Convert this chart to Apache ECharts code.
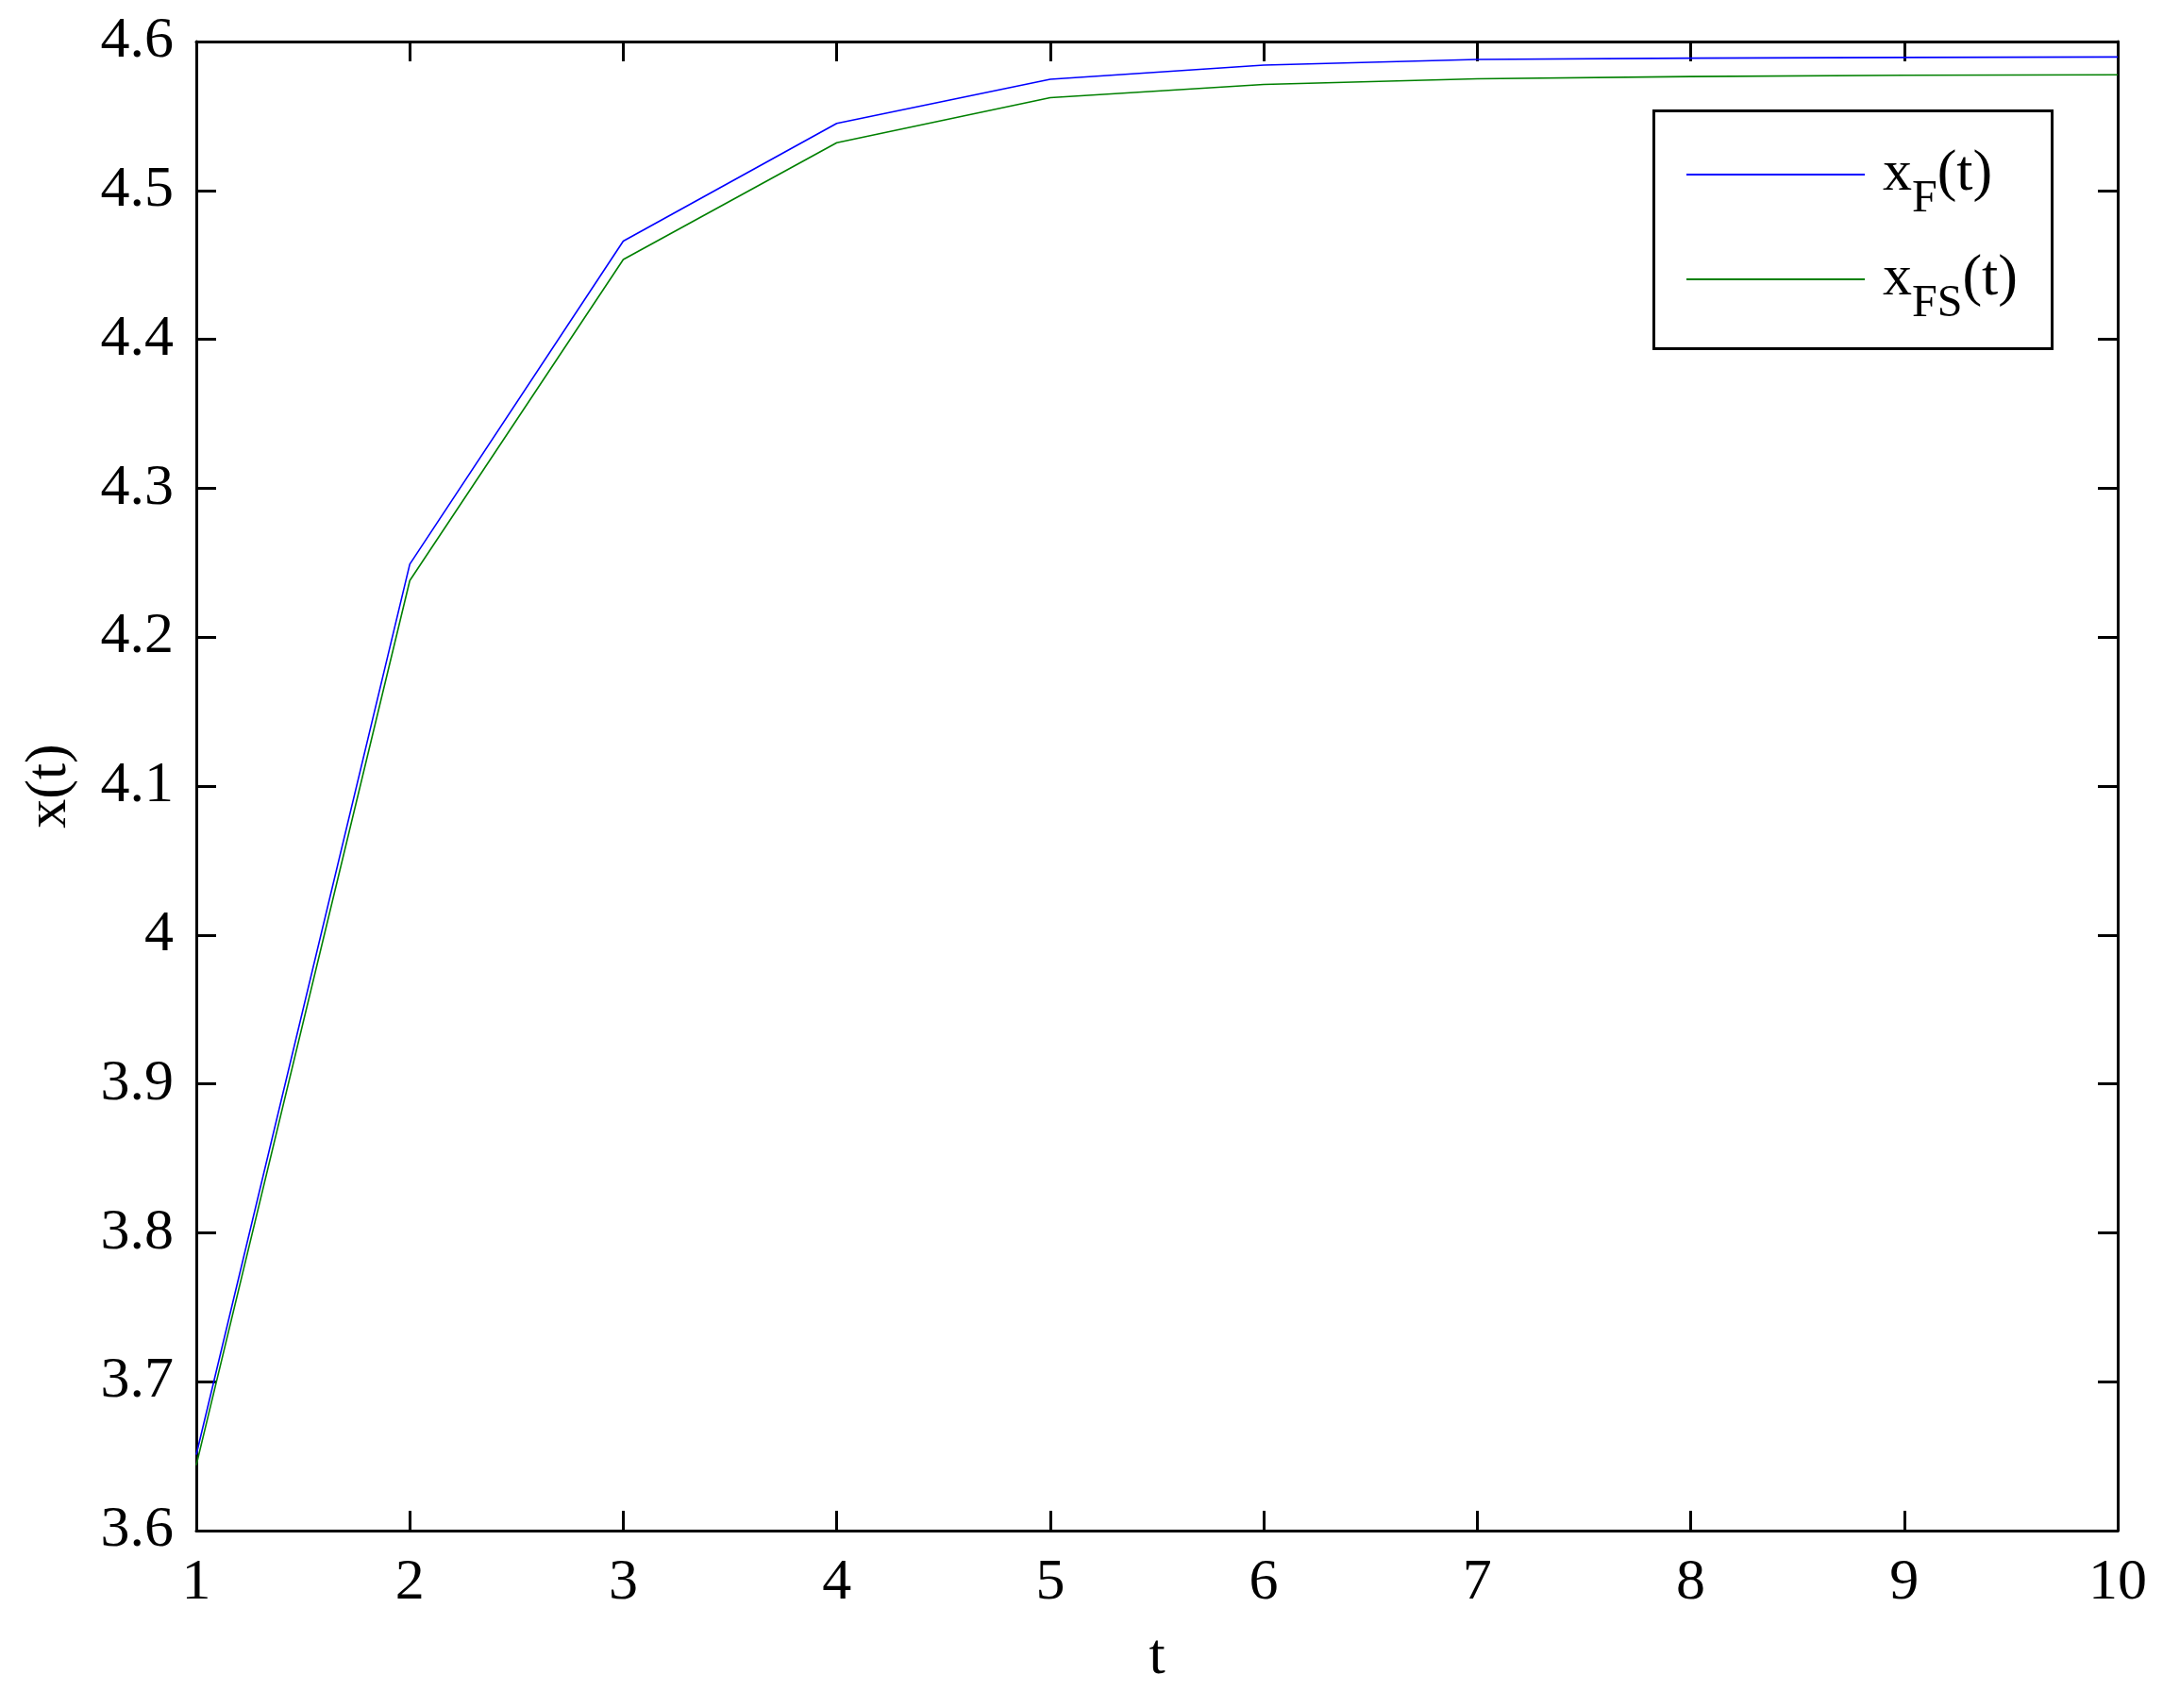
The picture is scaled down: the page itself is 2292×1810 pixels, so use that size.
<!DOCTYPE html>
<html>
<head>
<meta charset="utf-8">
<style>
  html, body { margin: 0; padding: 0; background: #fff; }
  #chart { width: 2292px; height: 1810px; }
</style>
<script src="https://cdn.jsdelivr.net/npm/echarts@6/dist/echarts.min.js"></script>
</head>
<body>
<div id="chart"></div>
<script>
// data
const tValues = [1, 2, 3, 4, 5, 6, 7, 8, 9, 10]
const xF = [3.651, 4.249, 4.466, 4.545, 4.5747, 4.5842, 4.588, 4.5888, 4.5893, 4.5896]
const xFS = [3.644, 4.238, 4.4536, 4.532, 4.5623, 4.5712, 4.575, 4.5765, 4.5773, 4.5777]
const seriesNames = ['xF(t)', 'xFS(t)']
const legendLabels = {
  'xF(t)': '{x|x}{s|F}{p|(t)}',
  'xFS(t)': '{x|x}{s|FS}{p|(t)}'
}

const font = "'Liberation Serif', 'Times New Roman', serif"
const chart = echarts.init(document.getElementById('chart'))

const toPairs = (ys) => tValues.map((t, i) => [t, ys[i]])

// shared look for the boxed MATLAB-style axes
const axisBase = {
  type: 'value',
  axisLine: { show: true, onZero: false, lineStyle: { color: '#000', width: 3 } },
  axisTick: { show: true, inside: true, length: 21, lineStyle: { color: '#000', width: 3 } },
  splitLine: { show: false }
}

const option = {
  backgroundColor: '#fff',
  animation: false,
  grid: { left: 208, right: 48, top: 44, bottom: 188 },
  xAxis: [
    {
      ...axisBase,
      position: 'bottom',
      min: 1, max: 10, interval: 1,
      name: 't',
      nameLocation: 'middle',
      nameGap: 104,
      nameTextStyle: { fontFamily: font, fontSize: 62, color: '#000' },
      axisLabel: { fontFamily: font, fontSize: 62, color: '#000', margin: 25 }
    },
    {
      ...axisBase,
      position: 'top',
      min: 1, max: 10, interval: 1,
      axisLabel: { show: false }
    }
  ],
  yAxis: [
    {
      ...axisBase,
      position: 'left',
      min: 3.6, max: 4.6, interval: 0.1,
      name: 'x(t)',
      nameLocation: 'middle',
      nameGap: 124,
      nameTextStyle: { fontFamily: font, fontSize: 62, color: '#000' },
      axisLabel: { fontFamily: font, fontSize: 62, color: '#000', margin: 24 }
    },
    {
      ...axisBase,
      position: 'right',
      min: 3.6, max: 4.6, interval: 0.1,
      axisLabel: { show: false }
    }
  ],
  legend: {
    data: seriesNames,
    orient: 'vertical',
    left: 1787,
    top: 154,
    padding: 0,
    icon: 'rect',
    itemWidth: 189,
    itemHeight: 2,
    itemGap: 30,
    formatter: (name) => legendLabels[name],
    textStyle: {
      fontFamily: font,
      color: '#000',
      rich: {
        // main glyphs centred in a tall line, subscript pushed to its bottom
        x: { fontFamily: font, fontSize: 62, lineHeight: 100, padding: [0, 0, 0, 14] },
        s: { fontFamily: font, fontSize: 48, lineHeight: 48, verticalAlign: 'bottom' },
        p: { fontFamily: font, fontSize: 62, lineHeight: 100 }
      }
    }
  },
  graphic: [
    {
      type: 'rect',
      left: 1750,
      top: 115,
      shape: { width: 422, height: 252 },
      style: { fill: 'none', stroke: '#000', lineWidth: 3 },
      z: 10
    }
  ],
  series: [
    {
      name: seriesNames[0],
      type: 'line',
      data: toPairs(xF),
      symbol: 'none',
      lineStyle: { color: '#0000ff', width: 1.6 },
      itemStyle: { color: '#0000ff' }
    },
    {
      name: seriesNames[1],
      type: 'line',
      data: toPairs(xFS),
      symbol: 'none',
      lineStyle: { color: '#008000', width: 1.6 },
      itemStyle: { color: '#008000' }
    }
  ]
}

chart.setOption(option)
</script>
</body>
</html>
